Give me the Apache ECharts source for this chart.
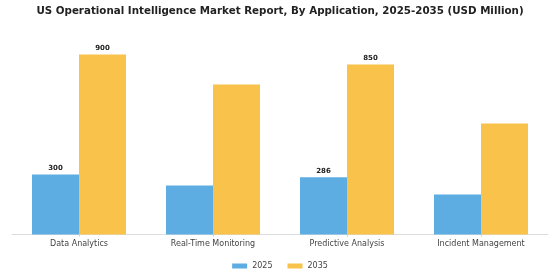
<!DOCTYPE html>
<html>
<head>
<meta charset="utf-8">
<script src="https://cdn.jsdelivr.net/npm/echarts@6/dist/echarts.min.js"></script>
<style>
  html, body { margin: 0; padding: 0; background: #fff; }
  #chart { width: 560px; height: 280px; }
</style>
</head>
<body>
<div id="chart"></div>
<script>
var categories = ['Data Analytics', 'Real-Time Monitoring', 'Predictive Analysis', 'Incident Management']
var years = ['2025', '2035']
var values2025 = [300, 245, 286, 200]
var values2035 = [900, 750, 850, 555]
// only these bars carry a value label in the original
var labelled = [0, 2]

var chart = echarts.init(document.getElementById('chart'))

function buildData(vals) {
  return vals.map(function(v, i) {
    return { value: v, label: { show: labelled.indexOf(i) !== -1 } }
  })
}

var labelStyle = {
  position: 'top',
  distance: 3,
  fontFamily: 'DejaVu Sans',
  fontWeight: 'bold',
  fontSize: 7,
  color: '#222'
}

chart.setOption({
  backgroundColor: '#fff',
  animation: false,
  title: {
    text: 'US Operational Intelligence Market Report, By Application, 2025-2035 (USD Million)',
    left: 'center',
    top: 1,
    textStyle: {
      fontFamily: 'DejaVu Sans',
      fontWeight: 'bold',
      fontSize: 10.3,
      color: '#222'
    }
  },
  legend: {
    data: years,
    bottom: 5,
    left: 'center',
    itemWidth: 15,
    itemHeight: 5,
    itemGap: 15,
    icon: 'rect',
    textStyle: {
      fontFamily: 'DejaVu Sans',
      fontSize: 8,
      color: '#444'
    }
  },
  grid: {
    left: 12,
    right: 12,
    top: 34.5,
    bottom: 45.5,
    containLabel: false
  },
  xAxis: {
    type: 'category',
    data: categories,
    axisLine: { lineStyle: { color: '#ddd', width: 1 } },
    axisTick: { show: true, alignWithLabel: true, length: 2, lineStyle: { color: '#ccc' } },
    axisLabel: {
      fontFamily: 'DejaVu Sans',
      fontSize: 8,
      color: '#444',
      margin: 5,
      interval: 0
    }
  },
  yAxis: {
    type: 'value',
    min: 0,
    max: 1000,
    show: false,
    splitLine: { show: false }
  },
  series: [
    {
      name: years[0],
      type: 'bar',
      data: buildData(values2025),
      barWidth: 47,
      barGap: '0%',
      itemStyle: { color: '#5DADE2' },
      label: labelStyle
    },
    {
      name: years[1],
      type: 'bar',
      data: buildData(values2035),
      barWidth: 47,
      barGap: '0%',
      itemStyle: { color: '#F8C24B' },
      label: labelStyle
    }
  ]
})
</script>
</body>
</html>
